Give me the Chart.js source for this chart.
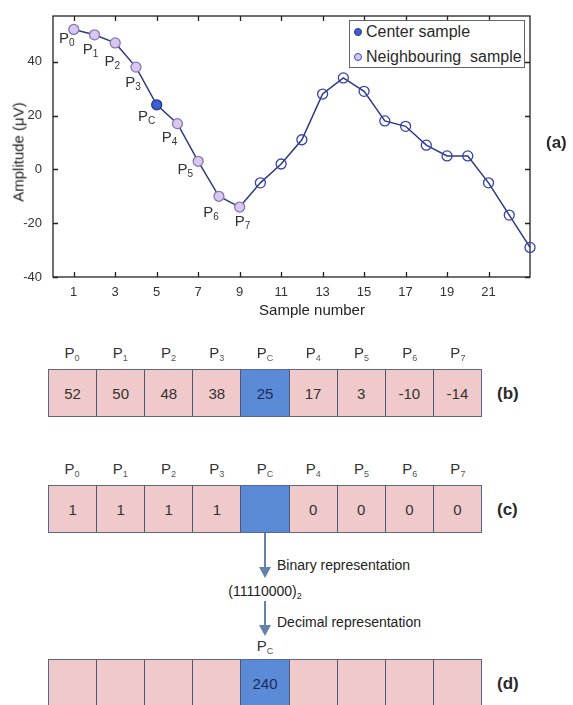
<!DOCTYPE html>
<html>
<head>
<meta charset="utf-8">
<script src="https://cdn.jsdelivr.net/npm/chart.js@4.4.0/dist/chart.umd.min.js"></script>
<style>
    body { margin: 0; background: #fff; font-family: "Liberation Sans", Arial, sans-serif; color: #2a2a2a; }
    #page { position: relative; width: 573px; height: 705px; overflow: hidden; }
    #plot-wrap { position: absolute; left: 0; top: 0; width: 573px; height: 320px; }
    .legend { position: absolute; left: 349px; top: 20px; width: 176px; height: 48px; border: 1px solid #666; background: #fff; font-size: 16px; box-sizing: border-box; }
    .legend-item { position: absolute; left: 4px; height: 20px; line-height: 20px; white-space: pre; }
    .legend-item i { display: inline-block; width: 6px; height: 6px; border-radius: 50%; margin-right: 4px; vertical-align: 1px; }
    .axis-title { position: absolute; font-size: 15px; color: #222; white-space: nowrap; transform: translate(-50%, -50%); }
    .panel-tag { position: absolute; font-weight: bold; font-size: 17px; transform: translateY(-50%); }
    .row { position: absolute; left: 48px; width: 434px; border: 1.5px solid #5a6690; box-sizing: border-box; display: flex; }
    .cell { flex: 1; border-right: 1.5px solid #4c5678; background: #f0caca; display: flex; align-items: center; justify-content: center; font-size: 15px; color: #333; }
    .cell:last-child { border-right: none; }
    .cell.center { background: #5b8ad6; color: #1d2b5c; }
    .hdr { position: absolute; transform: translate(-50%, -50%); font-size: 15px; color: #333; white-space: nowrap; }
    .hdr sub { font-size: 9px; vertical-align: -3px; color: #555; }
    .txt { position: absolute; font-size: 14px; color: #222; white-space: nowrap; transform: translateY(-50%); }
    .vline { position: absolute; width: 2px; background: #6383ad; }
    .head { position: absolute; width: 0; height: 0; border-left: 6px solid transparent; border-right: 6px solid transparent; border-top: 11px solid #6383ad; }
</style>
</head>
<body>
<div id="page">
    <div id="plot-wrap"><canvas id="ampChart" width="573" height="320"></canvas></div>
    <div class="axis-title" style="left:312px;top:309px">Sample number</div>
    <div class="axis-title" style="left:18px;top:152px;transform:translate(-50%,-50%) rotate(-90deg)">Amplitude (μV)</div>
    <div class="legend">
        <div class="legend-item" style="top:1px"><i style="background:#3d5fd0;border:1px solid #26378c"></i>Center sample</div>
        <div class="legend-item" style="top:26px"><i style="background:#d8c8ef;border:1px solid #3a48b0"></i>Neighbouring  sample</div>
    </div>
    <div class="panel-tag" style="left:546px;top:143px">(a)</div>
</div>

<script>
// samples of the trace in panel (a)
const sampleNumbers = [1, 2, 3, 4, 5, 6, 7, 8, 9, 10, 11, 12, 13, 14, 15, 16, 17, 18, 19, 20, 21, 22, 23];
const amplitudes = [52, 50, 47, 38, 24, 17, 3, -10, -14, -5, 2, 11, 28, 34, 29, 18, 16, 9, 5, 5, -5, -17, -29];
const xTickValues = [1, 3, 5, 7, 9, 11, 13, 15, 17, 19, 21];
const yTickValues = [-40, -20, 0, 20, 40];

// the 3x3 neighbourhood, laid out as a row
const cellNames = ['0', '1', '2', '3', 'C', '4', '5', '6', '7'];
const amplitudeCells = [52, 50, 48, 38, 25, 17, 3, -10, -14];
const binaryCells = [1, 1, 1, 1, '', 0, 0, 0, 0];
const decimalCells = ['', '', '', '', 240, '', '', '', ''];
const binaryCode = '11110000';
const centerIndex = 4;

const FONT = '"Liberation Sans", Arial, sans-serif';

function pointFill(i) {
    if (i === centerIndex) return '#3d5fd0';
    if (i < cellNames.length) return '#d8c8ef';
    return 'rgba(255,255,255,0)';
}
function pointEdge(i) {
    if (i === centerIndex) return '#26378c';
    if (i < cellNames.length) return '#8677b4';
    return '#3443b0';
}

// label placement next to the first nine points (dx, dy of label centre)
const tagOffsets = [[-7, 9], [-4, 14], [-3, 18], [-3, 15], [-10, 11], [-8, 13], [-13, 8], [-8, 16], [3, 14]];

const pointTags = {
    id: 'pointTags',
    afterDatasetsDraw(chart) {
        const ctx = chart.ctx;
        const meta = chart.getDatasetMeta(0);
        ctx.save();
        ctx.fillStyle = '#333';
        cellNames.forEach((sub, i) => {
            const pt = meta.data[i];
            ctx.font = '15px ' + FONT;
            const wP = ctx.measureText('P').width;
            ctx.font = '10px ' + FONT;
            const wS = ctx.measureText(sub).width;
            const left = pt.x + tagOffsets[i][0] - (wP + wS) / 2;
            const base = pt.y + tagOffsets[i][1] + 5;
            ctx.font = '15px ' + FONT;
            ctx.fillText('P', left, base);
            ctx.font = '10px ' + FONT;
            ctx.fillText(sub, left + wP, base + 3);
        });
        ctx.restore();
    }
};

// matlab style box with inward ticks on all four sides
const frameTicks = {
    id: 'frameTicks',
    beforeDatasetsDraw(chart) {
        const { ctx, chartArea: a, scales: { x, y } } = chart;
        ctx.save();
        ctx.strokeStyle = '#222';
        ctx.lineWidth = 1.3;
        ctx.strokeRect(a.left, a.top, a.right - a.left, a.bottom - a.top);
        ctx.beginPath();
        xTickValues.forEach(v => {
            const px = Math.round(x.getPixelForValue(v)) + 0.5;
            ctx.moveTo(px, a.bottom); ctx.lineTo(px, a.bottom - 5);
            ctx.moveTo(px, a.top); ctx.lineTo(px, a.top + 5);
        });
        yTickValues.forEach(v => {
            const py = Math.round(y.getPixelForValue(v)) + 0.5;
            ctx.moveTo(a.left, py); ctx.lineTo(a.left + 5, py);
            ctx.moveTo(a.right, py); ctx.lineTo(a.right - 5, py);
        });
        ctx.stroke();
        ctx.restore();
    }
};

const ctx = document.getElementById('ampChart').getContext('2d');
new Chart(ctx, {
    type: 'line',
    data: {
        datasets: [{
            data: sampleNumbers.map((s, i) => ({ x: s, y: amplitudes[i] })),
            borderColor: '#2d3a7e',
            borderWidth: 1.5,
            tension: 0,
            clip: false,
            pointRadius: 5,
            pointBorderWidth: 1.3,
            pointBackgroundColor: sampleNumbers.map((s, i) => pointFill(i)),
            pointBorderColor: sampleNumbers.map((s, i) => pointEdge(i))
        }]
    },
    options: {
        responsive: false,
        animation: false,
        events: [],
        layout: { padding: { left: 0, top: 16, right: 43, bottom: 0 } },
        plugins: { legend: { display: false }, tooltip: { enabled: false } },
        scales: {
            x: {
                type: 'linear',
                min: 0,
                max: 23,
                afterBuildTicks: s => { s.ticks = xTickValues.map(v => ({ value: v })); },
                afterFit: s => { s.height = 43; },
                grid: { display: false },
                border: { display: false },
                ticks: { color: '#333', font: { family: FONT, size: 13 }, padding: 0, maxRotation: 0, autoSkip: false }
            },
            y: {
                min: -40,
                max: 57,
                afterBuildTicks: s => { s.ticks = yTickValues.map(v => ({ value: v })); },
                afterFit: s => { s.width = 53; },
                grid: { display: false },
                border: { display: false },
                ticks: { color: '#333', font: { family: FONT, size: 13 }, padding: 3 }
            }
        }
    },
    plugins: [frameTicks, pointTags]
});

// ---- panels (b) (c) (d) ----
const page = document.getElementById('page');
const rowLeft = 48, rowWidth = 434;
const cellW = rowWidth / cellNames.length;
const centerX = rowLeft + cellW * (centerIndex + 0.5);

function addEl(cls, html, style) {
    const el = document.createElement('div');
    el.className = cls;
    el.innerHTML = html;
    Object.assign(el.style, style);
    page.appendChild(el);
    return el;
}

function addHeaders(y, onlyCenter) {
    cellNames.forEach((n, i) => {
        if (onlyCenter && i !== centerIndex) return;
        addEl('hdr', 'P<sub>' + n + '</sub>', { left: (rowLeft + cellW * (i + 0.5)) + 'px', top: y + 'px' });
    });
}

function addRow(top, values, tag) {
    const row = addEl('row', '', { top: top + 'px', height: '48px' });
    values.forEach((v, i) => {
        const c = document.createElement('div');
        c.className = 'cell' + (i === centerIndex ? ' center' : '');
        c.textContent = v;
        row.appendChild(c);
    });
    addEl('panel-tag', tag, { left: '497px', top: (top + 25) + 'px' });
}

function addArrow(y1, y2) {
    addEl('vline', '', { left: (centerX - 1) + 'px', top: y1 + 'px', height: (y2 - y1 - 9) + 'px' });
    addEl('head', '', { left: (centerX - 6) + 'px', top: (y2 - 11) + 'px' });
}

addHeaders(353, false);
addRow(369, amplitudeCells, '(b)');

addHeaders(469, false);
addRow(485, binaryCells, '(c)');

addArrow(533, 578);
addEl('txt', 'Binary representation', { left: '277px', top: '565px' });
addEl('txt', '(' + binaryCode + ')<sub style="font-size:9px">2</sub>', { left: centerX + 'px', top: '592px', transform: 'translate(-50%,-50%)' });
addArrow(601, 636);
addEl('txt', 'Decimal representation', { left: '277px', top: '622px' });
addHeaders(646, true);
addRow(659, decimalCells, '(d)');
</script>
</body>
</html>
